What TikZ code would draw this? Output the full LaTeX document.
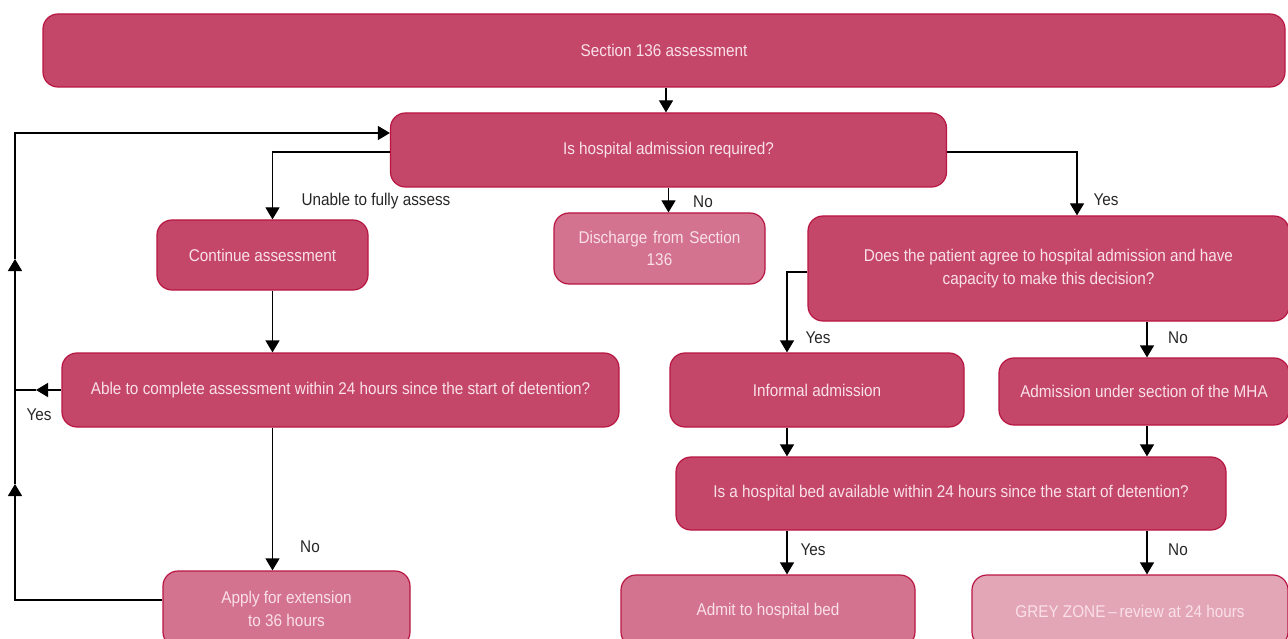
\documentclass[tikz,border=0pt]{standalone}
\usepackage{fontspec}
\setmainfont[FakeStretch=0.9]{Liberation Sans}
\usetikzlibrary{arrows.meta}
\definecolor{boxdark}{RGB}{196,71,106}
\definecolor{boxmid}{RGB}{212,115,143}
\definecolor{boxlight}{RGB}{227,166,183}
\definecolor{boxline}{RGB}{184,22,66}
\definecolor{boxtext}{RGB}{250,224,232}
\tikzset{
  flowbox/.style={draw=boxline, line width=1.2pt, rounded corners=15pt, fill=boxdark,
    text=boxtext, align=center, font=\fontsize{17}{22.5}\selectfont, inner sep=2pt},
  midbox/.style={flowbox, fill=boxmid},
  lightbox/.style={flowbox, fill=boxlight},
  conn/.style={line width=1.2pt, draw=black},
  arr/.style={conn, -{Triangle[width=14pt,length=12pt]}},
  lbl/.style={font=\fontsize{17}{20}\selectfont, text=black!85, inner sep=0pt}
}
\begin{document}
\begin{tikzpicture}[x=1pt,y=-1pt]
\useasboundingbox (0,0) rectangle (1288,639);
\clip (0,0) rectangle (1288,639);
% nodes
\node[flowbox, minimum width=1242pt, minimum height=73pt] (s136) at (664,50.5) {Section 136 assessment};
\node[flowbox, minimum width=556pt, minimum height=74pt] (q1) at (668.5,150) {Is hospital admission required?};
\node[flowbox, minimum width=211pt, minimum height=70pt] (cont) at (262.5,255) {Continue assessment};
\node[midbox, minimum width=211pt, minimum height=71pt, text width=200pt] (disc) at (659.5,248.5) {Discharge from Section\\136};
\node[flowbox, minimum width=481pt, minimum height=105pt] (agree) at (1048.5,268.5) {Does the patient agree to hospital admission and have\\capacity to make this decision?};
\node[flowbox, minimum width=557pt, minimum height=74pt] (able) at (340.5,390) {Able to complete assessment within 24 hours since the start of detention?};
\node[flowbox, minimum width=294pt, minimum height=74pt] (inf) at (817,390) {Informal admission};
\node[flowbox, minimum width=290pt, minimum height=67pt] (mha) at (1144,391.5) {Admission under section of the MHA};
\node[flowbox, minimum width=550pt, minimum height=73pt] (bed) at (951,493.5) {Is a hospital bed available within 24 hours since the start of detention?};
\node[midbox, minimum width=247pt, minimum height=76pt] (apply) at (286.5,609) {Apply for extension\\to 36 hours};
\node[midbox, minimum width=294pt, minimum height=72pt] (admit) at (768,611) {Admit to hospital bed};
\node[lightbox, minimum width=316pt, minimum height=72pt] (grey) at (1130,611) {GREY ZONE\,--\,review at 24 hours};
% coordinates for the loop on the left
\coordinate (lx1) at (15,600);
\coordinate (lm1) at (15,484);
\coordinate (lm2) at (15,259);
\coordinate (lx2) at (15,133);
\coordinate (ly) at (15,390);
\coordinate (lya) at (36,390);
% connectors
\draw[arr] (s136.south -| 666,0) -- (q1.north -| 666,0);
\draw[arr] (q1.west |- 0,152) -| ([xshift=10pt]cont.north);
\draw[arr] (q1.south) -- (q1.south |- disc.north);
\draw[arr] (q1.east |- 0,152) -| (agree.north -| 1077,0);
\draw[arr] ([xshift=10pt]cont.south) -- ([xshift=10pt]cont.south |- able.north);
\draw[arr] ([xshift=10pt]cont.south |- able.south) -- ([xshift=10pt]cont.south |- apply.north);
\draw[arr] (able.west) -- (lya);
\draw[conn] (lya) -- (ly);
\draw[arr] (apply.west |- lx1) -- (lx1) -- (lm1);
\draw[arr] (lm1) -- (lm2);
\draw[arr] (lm2) -- (lx2) -- (q1.west |- lx2);
\draw[arr] (agree.west |- 0,272) -| (inf.north -| 787,0);
\draw[arr] (agree.south -| 1147,0) -- (mha.north -| 1147,0);
\draw[arr] (inf.south -| 787,0) -- (bed.north -| 787,0);
\draw[arr] (mha.south -| 1147,0) -- (bed.north -| 1147,0);
\draw[arr] (bed.south -| 787,0) -- (admit.north -| 787,0);
\draw[arr] (bed.south -| 1147,0) -- (grey.north -| 1147,0);
% labels
\node[lbl] (l1) at (376,201) {Unable to fully assess};
\node[lbl] (l2) at (703,202) {No};
\node[lbl] (l3) at (1106,200) {Yes};
\node[lbl] (l4) at (818,338) {Yes};
\node[lbl] (l5) at (1178,338) {No};
\node[lbl] (l6) at (39,415) {Yes};
\node[lbl] (l7) at (310,547) {No};
\node[lbl] (l8) at (813,550) {Yes};
\node[lbl] (l9) at (1178,550) {No};
\end{tikzpicture}
\end{document}
